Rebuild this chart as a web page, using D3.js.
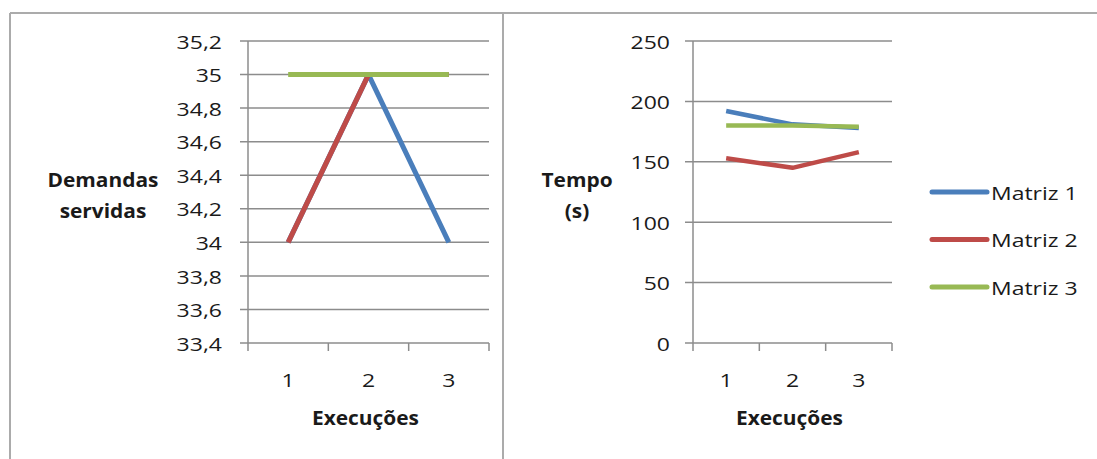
<!DOCTYPE html>
<html><head><meta charset="utf-8">
<script src="https://cdn.jsdelivr.net/npm/d3@7"></script>
<style>body{margin:0;background:#fff}svg{display:block}text{font-family:"Open Sans",sans-serif;fill:#1a1a1a}</style>
</head><body><svg id="c" width="1097" height="459"></svg>
<script>
const categories = ["1","2","3"];
const seriesNames = ["Matriz 1","Matriz 2","Matriz 3"];
const colors = ["#4a7ebb","#be4b48","#98b954"];
// Left chart: Demandas servidas
const demM1 = [34, 35, 34];
const demM2 = [34, 35, 35];
const demM3 = [35, 35, 35];
const leftTicks = [33.4,33.6,33.8,34,34.2,34.4,34.6,34.8,35,35.2];
// Right chart: Tempo (s)
const tempoM1 = [192, 181, 178];
const tempoM2 = [153, 145, 158];
const tempoM3 = [180, 180, 179];
const rightTicks = [0,50,100,150,200,250];

const svg = d3.select("#c");
const SX = 1.21, SXB = 1.1;
const loc = d3.formatLocale({decimal:",",thousands:".",grouping:[3],currency:["",""]});
const fmt = v => loc.format("~g")(+v.toFixed(1));

function txt(g, x, y, s, opt={}) {
  const sx = opt.bold ? SXB : SX;
  g.append("text")
    .attr("transform", `translate(${x},${y}) scale(${sx},1)`)
    .attr("text-anchor", opt.anchor || "middle")
    .attr("dominant-baseline", "central")
    .attr("font-size", opt.size || 19)
    .attr("font-weight", opt.bold ? 700 : 400)
    .text(s);
}

// frame
svg.append("line").attr("x1",10).attr("x2",1097).attr("y1",13).attr("y2",13).attr("stroke","#ababab").attr("stroke-width",2);
svg.append("line").attr("x1",10).attr("x2",10).attr("y1",13).attr("y2",459).attr("stroke","#ababab").attr("stroke-width",2);
svg.append("line").attr("x1",503).attr("x2",503).attr("y1",13).attr("y2",459).attr("stroke","#ababab").attr("stroke-width",2);

function chart(cfg) {
  const g = svg.append("g");
  const x = d3.scaleBand().domain(categories).range([cfg.x0, cfg.x1]).padding(0);
  const y = d3.scaleLinear().domain(cfg.domain).range([cfg.y1, cfg.y0]);
  const grid = "#8c8c8c";
  cfg.ticks.forEach(t => {
    g.append("line").attr("x1", cfg.x0 - 8).attr("x2", cfg.x1).attr("y1", y(t)).attr("y2", y(t))
      .attr("stroke", grid).attr("stroke-width", 1.5);
    txt(g, cfg.labelX, y(t), cfg.fmt(t), {anchor:"end"});
  });
  g.append("line").attr("x1", cfg.x0).attr("x2", cfg.x0).attr("y1", y(cfg.domain[1])).attr("y2", y(cfg.domain[0]) + 8)
    .attr("stroke", grid).attr("stroke-width", 1.5);
  categories.forEach((c, i) => {
    const xe = x(c) + x.bandwidth();
    g.append("line").attr("x1", xe).attr("x2", xe).attr("y1", y(cfg.domain[0])).attr("y2", y(cfg.domain[0]) + 8)
      .attr("stroke", grid).attr("stroke-width", 1.5);
    txt(g, x(c) + x.bandwidth()/2, 379, c);
  });
  txt(g, (cfg.x0 + cfg.x1)/2 - 3, 418, "Execuções", {bold:true});
  cfg.title.forEach((t, i) => txt(g, cfg.titleX, 180 + i*31, t, {bold:true}));
  const line = d3.line().x((d, i) => x(categories[i]) + x.bandwidth()/2).y(d => y(d));
  cfg.series.forEach((s, i) => {
    g.append("path").attr("d", line(s)).attr("fill","none").attr("stroke", colors[i])
      .attr("stroke-width", cfg.lw).attr("stroke-linejoin","round");
  });
}

chart({x0:248, x1:489, y0:41, y1:343, domain:[33.4,35.2], ticks:leftTicks, fmt:fmt, labelX:222,
  title:["Demandas","servidas"], titleX:103, series:[demM1, demM2, demM3], lw:5});
chart({x0:693, x1:892, y0:41, y1:343, domain:[0,250], ticks:rightTicks, fmt:d=>String(d), labelX:670,
  title:["Tempo","(s)"], titleX:577, series:[tempoM1, tempoM2, tempoM3], lw:4.5});

// legend
const lg = svg.append("g");
const ly = d3.scalePoint().domain(seriesNames).range([192, 287]);
seriesNames.forEach((n, i) => {
  lg.append("line").attr("x1", 932).attr("x2", 987).attr("y1", ly(n)).attr("y2", ly(n))
    .attr("stroke", colors[i]).attr("stroke-width", 5).attr("stroke-linecap","round");
  txt(lg, 991, ly(n), n, {anchor:"start"});
});
</script></body></html>
